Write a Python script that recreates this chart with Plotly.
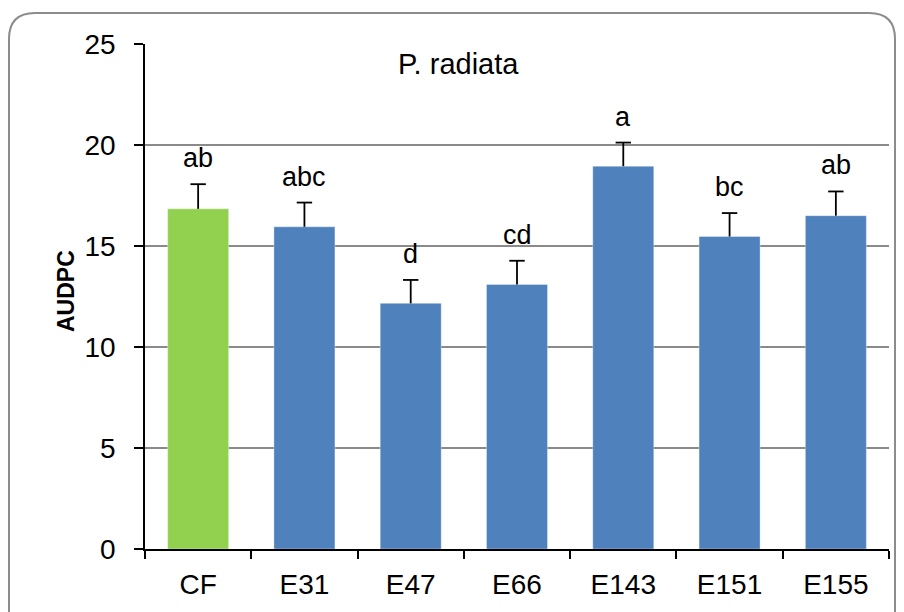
import plotly.graph_objects as go

categories = ["CF", "E31", "E47", "E66", "E143", "E151", "E155"]
audpc = [16.84, 15.95, 12.16, 13.10, 18.95, 15.47, 16.50]
errors = [1.22, 1.20, 1.16, 1.17, 1.17, 1.16, 1.20]
letters = ["ab", "abc", "d", "cd", "a", "bc", "ab"]
bar_colors = ["#92D050", "#4F81BD", "#4F81BD", "#4F81BD", "#4F81BD", "#4F81BD", "#4F81BD"]
y_ticks = [0, 5, 10, 15, 20, 25]

W, H = 904, 612
L, R, T, B = 145, 889, 44, 549

FONT = "Liberation Sans, Arial, sans-serif"

fig = go.Figure()
fig.add_trace(go.Bar(
    x=categories, y=audpc,
    marker=dict(color=bar_colors, line=dict(color="rgba(255,255,255,0.35)", width=1)),
    showlegend=False, hoverinfo="skip",
))

# upper error bars: stems from bar top to value+error, with a cap only at the top
stem_x, stem_y = [], []
for c, v, e in zip(categories, audpc, errors):
    stem_x += [c, c, None]
    stem_y += [v, v + e, None]
fig.add_trace(go.Scatter(
    x=stem_x, y=stem_y, mode="lines", line=dict(color="black", width=1.8),
    showlegend=False, hoverinfo="skip",
))
fig.add_trace(go.Scatter(
    x=categories, y=[v + e for v, e in zip(audpc, errors)], mode="markers",
    marker=dict(symbol="line-ew-open", size=11, color="black",
                line=dict(color="black", width=1.8)),
    showlegend=False, hoverinfo="skip",
))

for c, v, e, t in zip(categories, audpc, errors, letters):
    fig.add_annotation(x=c, y=v + e, text=t, showarrow=False, yanchor="bottom",
                       yshift=9, font=dict(size=27, color="black", family=FONT))

def px(xp):
    return (xp - L) / (R - L)
def py(yp):
    return (B - yp) / (B - T)

fig.add_annotation(xref="paper", yref="paper", x=px(458), y=py(64),
                   text="P. radiata", showarrow=False, xanchor="center", yanchor="middle",
                   font=dict(size=29, color="black", family=FONT))

fig.add_annotation(xref="paper", yref="paper", x=px(66), y=py(291),
                   text="<b>AUDPC</b>", showarrow=False, xanchor="center", yanchor="middle",
                   textangle=-90, font=dict(size=23, color="black", family=FONT))

# rounded frame
x0, x1, y0, y1, r = 9, 895, 13, 640, 26
path = (f"M {px(x0)},{py(y1)} L {px(x0)},{py(y0 + r)} "
        f"Q {px(x0)},{py(y0)} {px(x0 + r)},{py(y0)} "
        f"L {px(x1 - r)},{py(y0)} "
        f"Q {px(x1)},{py(y0)} {px(x1)},{py(y0 + r)} "
        f"L {px(x1)},{py(y1)}")
fig.add_shape(type="path", path=path, xref="paper", yref="paper",
              line=dict(color="#8C8C8C", width=2), layer="below")

fig.update_layout(
    width=W, height=H,
    margin=dict(l=L, r=W - R, t=T, b=H - B),
    paper_bgcolor="white", plot_bgcolor="white",
    bargap=0.426,
    font=dict(family=FONT, color="black", size=28),
)
fig.update_xaxes(
    type="category", categoryorder="array", categoryarray=categories,
    tickson="boundaries", ticks="outside", ticklen=8, tickwidth=1.6,
    tickcolor="black", showline=True, linecolor="black", linewidth=1.6,
    showgrid=False, tickfont=dict(size=28, family=FONT, color="black"),
    ticklabelstandoff=10,
)
fig.update_yaxes(
    range=[0, 25], tickvals=y_ticks, ticktext=[str(v) for v in y_ticks],
    ticks="outside", ticklen=9, tickwidth=1.6, tickcolor="black",
    showline=True, linecolor="black", linewidth=1.6,
    showgrid=True, gridcolor="#8A8A8A", gridwidth=1.6, zeroline=False,
    tickfont=dict(size=28, family=FONT, color="black"),
    ticklabelstandoff=13,
)

fig.write_html("out.html", post_script="document.body.style.margin='0';",
               config={"displayModeBar": False})
